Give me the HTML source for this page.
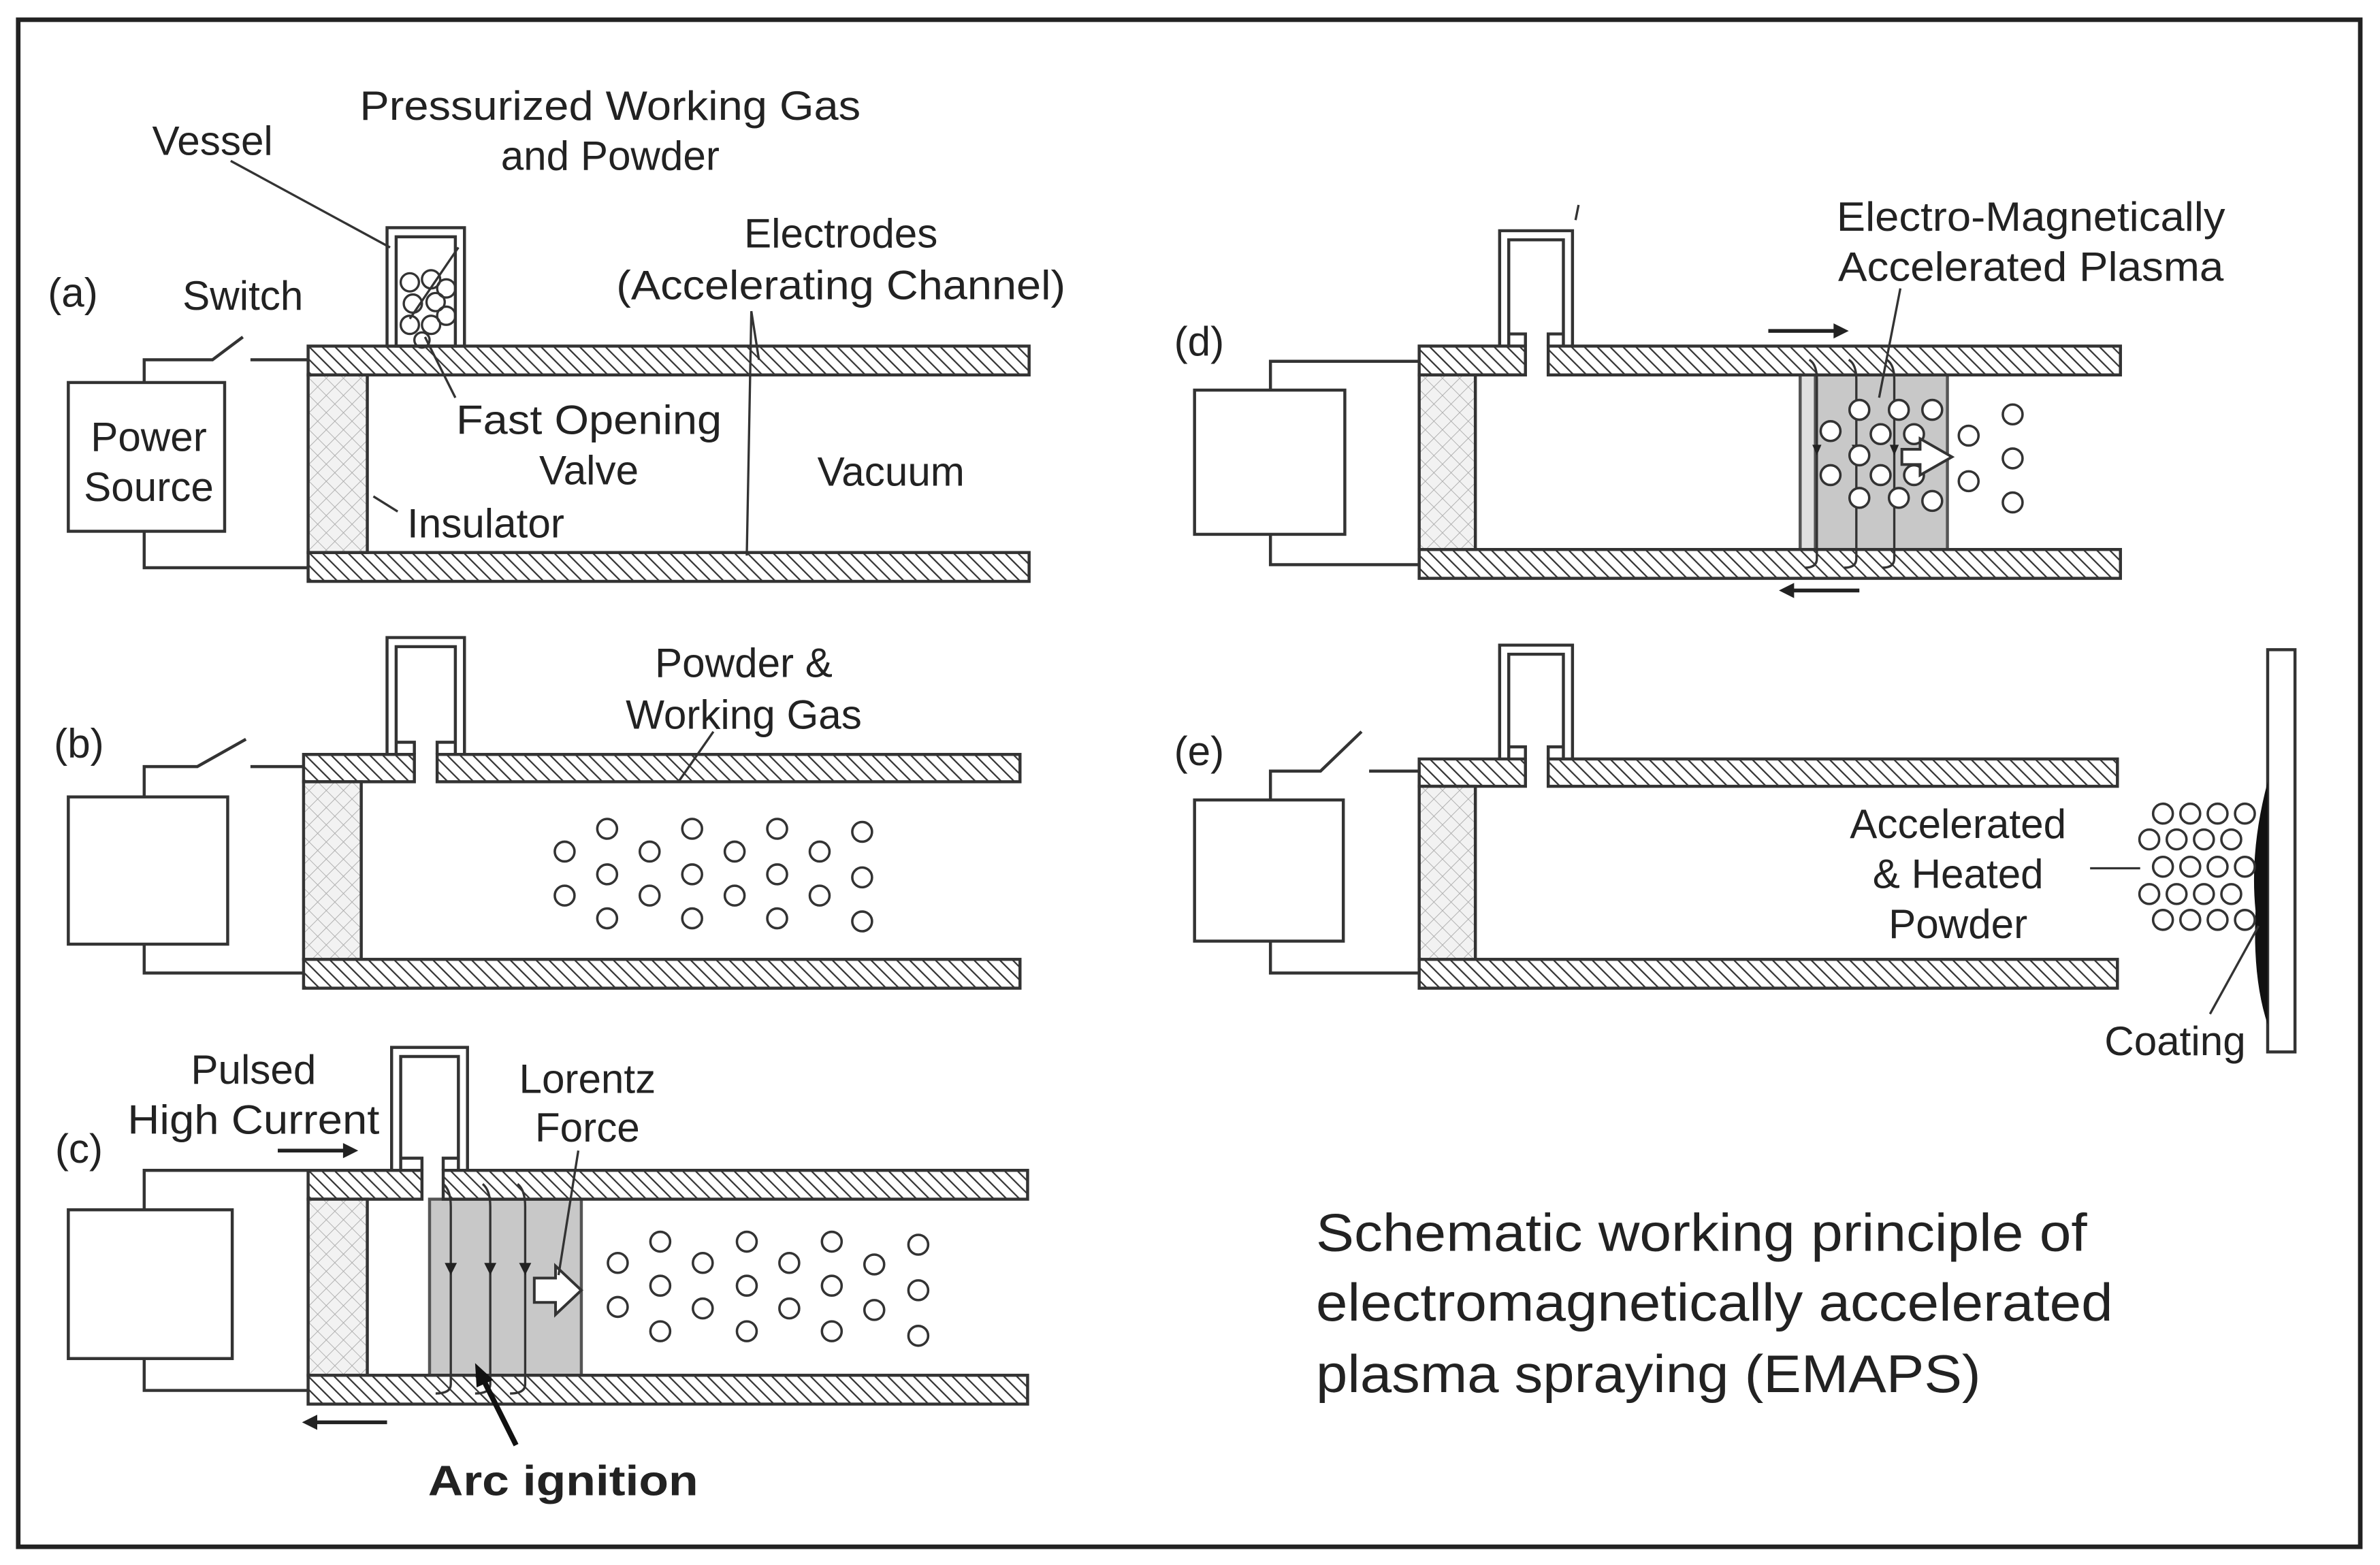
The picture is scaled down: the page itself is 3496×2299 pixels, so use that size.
<!DOCTYPE html>
<html><head><meta charset="utf-8"><style>
html,body{margin:0;padding:0;background:#fff;}
svg{display:block;}
text{font-family:"Liberation Sans",Arial,sans-serif;fill:#222;}
</style></head><body>
<svg width="3496" height="2299" viewBox="0 0 1568 1031" preserveAspectRatio="none" xmlns="http://www.w3.org/2000/svg">
<defs>
<pattern id="hatch" width="6" height="6" patternUnits="userSpaceOnUse" patternTransform="rotate(-45)">
<rect width="6" height="6" fill="#fff"/><line x1="0" y1="0" x2="0" y2="6" stroke="#333" stroke-width="2"/>
</pattern>
<pattern id="cross" width="8" height="8" patternUnits="userSpaceOnUse" patternTransform="rotate(45)">
<rect width="8" height="8" fill="#f2f2f2"/><line x1="0" y1="0" x2="0" y2="8" stroke="#aaa" stroke-width="0.8"/><line x1="0" y1="0" x2="8" y2="0" stroke="#aaa" stroke-width="0.8"/>
</pattern>
</defs>
<rect x="0" y="0" width="1568" height="1031" fill="#fff"/>
<rect x="12" y="13" width="1543" height="1006" fill="none" stroke="#222" stroke-width="3"/>

<g stroke="#333" stroke-width="2" fill="none">
<!-- Panel a -->
<rect x="203" y="228" width="475" height="19" fill="url(#hatch)"/>
<rect x="203" y="364" width="475" height="19" fill="url(#hatch)"/>
<rect x="203" y="247" width="39" height="117" fill="url(#cross)"/>
<rect x="45" y="252" width="103" height="98" fill="#fff"/>
<polyline points="95,252 95,237 140,237 160,222"/>
<line x1="165" y1="237" x2="203" y2="237"/>
<polyline points="95,350 95,374 203,374"/>
<rect x="255" y="150" width="51" height="78" fill="#fff"/>
<rect x="261" y="156" width="39" height="72"/>
<g stroke-width="1.5"><circle cx="270" cy="186" r="6"/><circle cx="284" cy="184" r="6"/><circle cx="294" cy="190" r="6"/><circle cx="272" cy="200" r="6"/><circle cx="287" cy="199" r="6"/><circle cx="270" cy="214" r="6"/><circle cx="284" cy="214" r="6"/><circle cx="294" cy="208" r="6"/><circle cx="278" cy="224" r="5"/></g>
<g stroke-width="1.5">
<line x1="152" y1="106" x2="257" y2="163"/>
<line x1="302" y1="163" x2="270" y2="210"/>
<line x1="300" y1="262" x2="280" y2="222"/>
<polyline points="500,237 495,205 492,366"/>
<line x1="262" y1="337" x2="246" y2="327"/>
</g>

<!-- Panel b -->
<path d="M200,497 H273 V515 H200 Z" fill="url(#hatch)"/>
<rect x="288" y="497" width="384" height="18" fill="url(#hatch)"/>
<rect x="200" y="632" width="472" height="19" fill="url(#hatch)"/>
<rect x="200" y="515" width="38" height="117" fill="url(#cross)"/>
<rect x="45" y="525" width="105" height="97" fill="#fff"/>
<polyline points="95,525 95,505 130,505 162,487"/>
<line x1="165" y1="505" x2="200" y2="505"/>
<polyline points="95,622 95,641 200,641"/>
<path d="M255,497 V420 H306 V497 M261,497 V426 H300 V497 M261,489 H273 V497 M288,497 V489 H300"/>
<line x1="470" y1="482" x2="447" y2="515" stroke-width="1.5"/>
<g stroke-width="1.6">
<circle cx="372" cy="561" r="6.5"/><circle cx="372" cy="590" r="6.5"/>
<circle cx="400" cy="546" r="6.5"/><circle cx="400" cy="576" r="6.5"/><circle cx="400" cy="605" r="6.5"/>
<circle cx="428" cy="561" r="6.5"/><circle cx="428" cy="590" r="6.5"/>
<circle cx="456" cy="546" r="6.5"/><circle cx="456" cy="576" r="6.5"/><circle cx="456" cy="605" r="6.5"/>
<circle cx="484" cy="561" r="6.5"/><circle cx="484" cy="590" r="6.5"/>
<circle cx="512" cy="546" r="6.5"/><circle cx="512" cy="576" r="6.5"/><circle cx="512" cy="605" r="6.5"/>
<circle cx="540" cy="561" r="6.5"/><circle cx="540" cy="590" r="6.5"/>
<circle cx="568" cy="548" r="6.5"/><circle cx="568" cy="578" r="6.5"/><circle cx="568" cy="607" r="6.5"/>
</g>

<!-- Panel c -->
<rect x="283" y="790" width="100" height="116" fill="#c8c8c8" stroke="#555"/>
<path d="M203,771 H278 V790 H203 Z" fill="url(#hatch)"/>
<rect x="292" y="771" width="385" height="19" fill="url(#hatch)"/>
<rect x="203" y="906" width="474" height="19" fill="url(#hatch)"/>
<rect x="203" y="790" width="39" height="116" fill="url(#cross)"/>
<rect x="45" y="797" width="108" height="98" fill="#fff"/>
<polyline points="95,797 95,771 203,771"/>
<polyline points="95,895 95,916 203,916"/>
<path d="M258,771 V690 H308 V771 M264,771 V696 H302 V771 M264,763 H278 V771 M292,771 V763 H302"/>
<g stroke-width="1.5">
<path d="M292,780 Q297,784 297,795 V912 Q297,918 287,918"/>
<path d="M318,780 Q323,784 323,795 V912 Q323,918 313,918"/>
<path d="M341,780 Q346,784 346,795 V912 Q346,918 336,918"/>
</g>
<path d="M297,840 l-4,-8 h8z M323,840 l-4,-8 h8z M346,840 l-4,-8 h8z" fill="#222" stroke="none"/>
<path d="M352,842 H366 V834 L383,850 L366,866 V858 H352 Z" fill="#fff" stroke-width="1.8"/>
<line x1="381" y1="758" x2="368" y2="840" stroke-width="1.5"/>
<g stroke-width="1.6">
<circle cx="407" cy="832" r="6.5"/><circle cx="407" cy="861" r="6.5"/>
<circle cx="435" cy="818" r="6.5"/><circle cx="435" cy="847" r="6.5"/><circle cx="435" cy="877" r="6.5"/>
<circle cx="463" cy="832" r="6.5"/><circle cx="463" cy="862" r="6.5"/>
<circle cx="492" cy="818" r="6.5"/><circle cx="492" cy="847" r="6.5"/><circle cx="492" cy="877" r="6.5"/>
<circle cx="520" cy="832" r="6.5"/><circle cx="520" cy="862" r="6.5"/>
<circle cx="548" cy="818" r="6.5"/><circle cx="548" cy="847" r="6.5"/><circle cx="548" cy="877" r="6.5"/>
<circle cx="576" cy="833" r="6.5"/><circle cx="576" cy="863" r="6.5"/>
<circle cx="605" cy="820" r="6.5"/><circle cx="605" cy="850" r="6.5"/><circle cx="605" cy="880" r="6.5"/>
</g>
<line x1="183" y1="758" x2="228" y2="758" stroke="#222" stroke-width="2.5"/>
<path d="M236,758 l-10,-5 v10z" fill="#222" stroke="none"/>
<line x1="208" y1="937" x2="255" y2="937" stroke="#222" stroke-width="2.5"/>
<path d="M199,937 l10,-5 v10z" fill="#222" stroke="none"/>
<line x1="340" y1="952" x2="318" y2="908" stroke="#111" stroke-width="3.5"/>
<path d="M313,898 l1,16 l11,-5z" fill="#111" stroke="none"/>

<!-- Panel d -->
<rect x="1186" y="247" width="97" height="115" fill="#c8c8c8" stroke="#555"/>
<rect x="1186" y="247" width="10" height="115" fill="#e0e0e0" stroke="#555"/>
<path d="M935,228 H1005 V247 H935 Z" fill="url(#hatch)"/>
<rect x="1020" y="228" width="377" height="19" fill="url(#hatch)"/>
<rect x="935" y="362" width="462" height="19" fill="url(#hatch)"/>
<rect x="935" y="247" width="37" height="115" fill="url(#cross)"/>
<rect x="787" y="257" width="99" height="95" fill="#fff"/>
<polyline points="837,257 837,238 935,238"/>
<polyline points="837,352 837,372 935,372"/>
<path d="M988,228 V152 H1036 V228 M994,228 V158 H1030 V228 M994,220 H1005 V228 M1020,228 V220 H1030"/>
<g stroke-width="1.5">
<path d="M1192,237 Q1197,240 1197,250 V368 Q1197,374 1189,374"/>
<path d="M1218,237 Q1223,240 1223,250 V368 Q1223,374 1215,374"/>
<path d="M1243,237 Q1248,240 1248,250 V368 Q1248,374 1240,374"/>
</g>
<path d="M1197,300 l-3,-7 h6z M1223,300 l-3,-7 h6z M1248,300 l-3,-7 h6z" fill="#222" stroke="none"/>
<line x1="1252" y1="190" x2="1238" y2="262" stroke-width="1.5"/>
<g stroke-width="1.6" fill="#fff">
<circle cx="1225" cy="270" r="6.5"/><circle cx="1251" cy="270" r="6.5"/><circle cx="1273" cy="270" r="6.5"/>
<circle cx="1206" cy="284" r="6.5"/><circle cx="1239" cy="286" r="6.5"/><circle cx="1261" cy="286" r="6.5"/><circle cx="1297" cy="287" r="6.5"/><circle cx="1326" cy="273" r="6.5"/>
<circle cx="1225" cy="300" r="6.5"/><circle cx="1326" cy="302" r="6.5"/>
<circle cx="1206" cy="313" r="6.5"/><circle cx="1239" cy="313" r="6.5"/><circle cx="1261" cy="313" r="6.5"/><circle cx="1297" cy="317" r="6.5"/>
<circle cx="1225" cy="328" r="6.5"/><circle cx="1251" cy="328" r="6.5"/><circle cx="1273" cy="330" r="6.5"/><circle cx="1326" cy="331" r="6.5"/>
</g>
<path d="M1253,296 H1265 V289 L1286,301 L1265,313 V306 H1253 Z" fill="#fff" stroke-width="1.8"/>
<line x1="1165" y1="218" x2="1210" y2="218" stroke="#222" stroke-width="2.5"/>
<path d="M1218,218 l-10,-5 v10z" fill="#222" stroke="none"/>
<line x1="1181" y1="389" x2="1225" y2="389" stroke="#222" stroke-width="2.5"/>
<path d="M1172,389 l10,-5 v10z" fill="#222" stroke="none"/>
<line x1="1040" y1="135" x2="1038" y2="145" stroke-width="1.5"/>

<!-- Panel e -->
<path d="M935,500 H1005 V518 H935 Z" fill="url(#hatch)"/>
<rect x="1020" y="500" width="375" height="18" fill="url(#hatch)"/>
<rect x="935" y="632" width="460" height="19" fill="url(#hatch)"/>
<rect x="935" y="518" width="37" height="114" fill="url(#cross)"/>
<rect x="787" y="527" width="98" height="93" fill="#fff"/>
<polyline points="837,527 837,508 870,508 897,482"/>
<line x1="902" y1="508" x2="935" y2="508"/>
<polyline points="837,620 837,641 935,641"/>
<path d="M988,500 V425 H1036 V500 M994,500 V431 H1030 V500 M994,492 H1005 V500 M1020,500 V492 H1030"/>
<rect x="1494" y="428" width="18" height="265" fill="#fff"/>
<path d="M1494,515 Q1482,560 1486,600 Q1484,645 1494,675 Z" fill="#111" stroke="none"/>
<g stroke-width="1.6" fill="#fff">
<circle cx="1425" cy="536" r="6.5"/><circle cx="1443" cy="536" r="6.5"/><circle cx="1461" cy="536" r="6.5"/><circle cx="1479" cy="536" r="6.5"/>
<circle cx="1416" cy="553" r="6.5"/><circle cx="1434" cy="553" r="6.5"/><circle cx="1452" cy="553" r="6.5"/><circle cx="1470" cy="553" r="6.5"/>
<circle cx="1425" cy="571" r="6.5"/><circle cx="1443" cy="571" r="6.5"/><circle cx="1461" cy="571" r="6.5"/><circle cx="1479" cy="571" r="6.5"/>
<circle cx="1416" cy="589" r="6.5"/><circle cx="1434" cy="589" r="6.5"/><circle cx="1452" cy="589" r="6.5"/><circle cx="1470" cy="589" r="6.5"/>
<circle cx="1425" cy="606" r="6.5"/><circle cx="1443" cy="606" r="6.5"/><circle cx="1461" cy="606" r="6.5"/><circle cx="1479" cy="606" r="6.5"/>
</g>
<line x1="1377" y1="572" x2="1410" y2="572" stroke-width="1.5"/>
<line x1="1456" y1="668" x2="1488" y2="610" stroke-width="1.5"/>
</g>

<!-- Labels -->
<g font-size="27">
<text x="402" y="79" text-anchor="middle" textLength="330" lengthAdjust="spacingAndGlyphs">Pressurized Working Gas</text>
<text x="402" y="112" text-anchor="middle">and Powder</text>
<text x="140" y="102" text-anchor="middle">Vessel</text>
<text x="48" y="202" text-anchor="middle">(a)</text>
<text x="160" y="204" text-anchor="middle">Switch</text>
<text x="554" y="163" text-anchor="middle">Electrodes</text>
<text x="554" y="197" text-anchor="middle" textLength="296" lengthAdjust="spacingAndGlyphs">(Accelerating Channel)</text>
<text x="98" y="297" text-anchor="middle">Power</text>
<text x="98" y="330" text-anchor="middle">Source</text>
<text x="388" y="286" text-anchor="middle" textLength="175" lengthAdjust="spacingAndGlyphs">Fast Opening</text>
<text x="388" y="319" text-anchor="middle">Valve</text>
<text x="587" y="320" text-anchor="middle">Vacuum</text>
<text x="320" y="354" text-anchor="middle">Insulator</text>
<text x="52" y="499" text-anchor="middle">(b)</text>
<text x="490" y="446" text-anchor="middle">Powder &amp;</text>
<text x="490" y="480" text-anchor="middle">Working Gas</text>
<text x="52" y="766" text-anchor="middle">(c)</text>
<text x="167" y="714" text-anchor="middle">Pulsed</text>
<text x="167" y="747" text-anchor="middle" textLength="166" lengthAdjust="spacingAndGlyphs">High Current</text>
<text x="387" y="720" text-anchor="middle">Lorentz</text>
<text x="387" y="752" text-anchor="middle">Force</text>
<text x="371" y="985" text-anchor="middle" font-weight="bold" font-size="28" fill="#111" textLength="178" lengthAdjust="spacingAndGlyphs">Arc ignition</text>
<text x="790" y="234" text-anchor="middle">(d)</text>
<text x="1338" y="152" text-anchor="middle" textLength="256" lengthAdjust="spacingAndGlyphs">Electro-Magnetically</text>
<text x="1338" y="185" text-anchor="middle" textLength="254" lengthAdjust="spacingAndGlyphs">Accelerated Plasma</text>
<text x="790" y="504" text-anchor="middle">(e)</text>
<text x="1290" y="552" text-anchor="middle">Accelerated</text>
<text x="1290" y="585" text-anchor="middle">&amp; Heated</text>
<text x="1290" y="618" text-anchor="middle">Powder</text>
<text x="1433" y="695" text-anchor="middle">Coating</text>
</g>
<g font-size="35" fill="#111">
<text x="867" y="824" textLength="508" lengthAdjust="spacingAndGlyphs">Schematic working principle of</text>
<text x="867" y="870" textLength="525" lengthAdjust="spacingAndGlyphs">electromagnetically accelerated</text>
<text x="867" y="917" textLength="438" lengthAdjust="spacingAndGlyphs">plasma spraying (EMAPS)</text>
</g>
</svg>
</body></html>
